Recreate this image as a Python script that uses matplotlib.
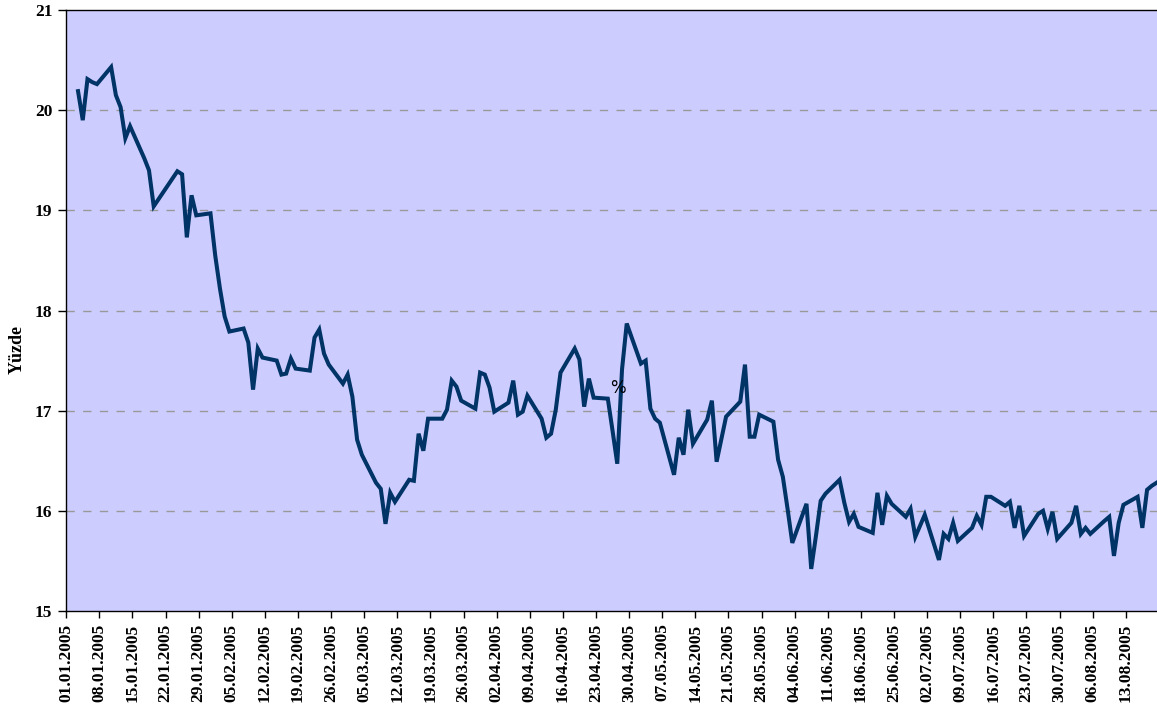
import matplotlib
matplotlib.use("Agg")
import matplotlib.pyplot as plt
import pandas as pd

# ---- data ----
dates = [
    "2005-01-03", "2005-01-04", "2005-01-05", "2005-01-06", "2005-01-07",
    "2005-01-10", "2005-01-11", "2005-01-12", "2005-01-13", "2005-01-14",
    "2005-01-17", "2005-01-18", "2005-01-19", "2005-01-24", "2005-01-25",
    "2005-01-26", "2005-01-27", "2005-01-28", "2005-01-31",
    "2005-02-01", "2005-02-02", "2005-02-03", "2005-02-04", "2005-02-07",
    "2005-02-08", "2005-02-09", "2005-02-10", "2005-02-11", "2005-02-14",
    "2005-02-15", "2005-02-16", "2005-02-17", "2005-02-18", "2005-02-21",
    "2005-02-22", "2005-02-23", "2005-02-24", "2005-02-25", "2005-02-28",
    "2005-03-01", "2005-03-02", "2005-03-03", "2005-03-04", "2005-03-07",
    "2005-03-08", "2005-03-09", "2005-03-10", "2005-03-11", "2005-03-14",
    "2005-03-15", "2005-03-16", "2005-03-17", "2005-03-18", "2005-03-21",
    "2005-03-22", "2005-03-23", "2005-03-24", "2005-03-25", "2005-03-28",
    "2005-03-29", "2005-03-30", "2005-03-31",
    "2005-04-01", "2005-04-04", "2005-04-05", "2005-04-06", "2005-04-07",
    "2005-04-08", "2005-04-11", "2005-04-12", "2005-04-13", "2005-04-14",
    "2005-04-15", "2005-04-18", "2005-04-19", "2005-04-20", "2005-04-21",
    "2005-04-22", "2005-04-25", "2005-04-26", "2005-04-27", "2005-04-28",
    "2005-04-29",
    "2005-05-02", "2005-05-03", "2005-05-04", "2005-05-05", "2005-05-06",
    "2005-05-09", "2005-05-10", "2005-05-11", "2005-05-12", "2005-05-13",
    "2005-05-16", "2005-05-17", "2005-05-18", "2005-05-20", "2005-05-23",
    "2005-05-24", "2005-05-25", "2005-05-26", "2005-05-27", "2005-05-30",
    "2005-05-31",
    "2005-06-01", "2005-06-02", "2005-06-03", "2005-06-06", "2005-06-07",
    "2005-06-08", "2005-06-09", "2005-06-10", "2005-06-13", "2005-06-14",
    "2005-06-15", "2005-06-16", "2005-06-17", "2005-06-20", "2005-06-21",
    "2005-06-22", "2005-06-23", "2005-06-24", "2005-06-27", "2005-06-28",
    "2005-06-29", "2005-06-30",
    "2005-07-01", "2005-07-04", "2005-07-05", "2005-07-06", "2005-07-07",
    "2005-07-08", "2005-07-11", "2005-07-12", "2005-07-13", "2005-07-14",
    "2005-07-15", "2005-07-18", "2005-07-19", "2005-07-20", "2005-07-21",
    "2005-07-22", "2005-07-25", "2005-07-26", "2005-07-27", "2005-07-28",
    "2005-07-29",
    "2005-08-01", "2005-08-02", "2005-08-03", "2005-08-04", "2005-08-05",
    "2005-08-08", "2005-08-09", "2005-08-10", "2005-08-11", "2005-08-12",
    "2005-08-15", "2005-08-16", "2005-08-17", "2005-08-18", "2005-08-19",
]

values = [
    20.19, 19.90, 20.31, 20.28, 20.26,
    20.43, 20.15, 20.03, 19.72, 19.84,
    19.52, 19.40, 19.04, 19.39, 19.36,
    18.73, 19.15, 18.95, 18.97,
    18.55, 18.22, 17.94, 17.79, 17.82,
    17.68, 17.21, 17.62, 17.53, 17.50,
    17.36, 17.37, 17.52, 17.42, 17.40,
    17.73, 17.81, 17.57, 17.46, 17.27,
    17.36, 17.14, 16.71, 16.56, 16.28,
    16.22, 15.87, 16.18, 16.09, 16.31,
    16.30, 16.77, 16.60, 16.92, 16.92,
    17.01, 17.30, 17.24, 17.10, 17.02,
    17.38, 17.36, 17.23,
    16.99, 17.08, 17.30, 16.96, 16.99,
    17.15, 16.92, 16.73, 16.77, 17.01,
    17.38, 17.62, 17.51, 17.04, 17.32,
    17.13, 17.12, 16.80, 16.47, 17.41,
    17.87,
    17.47, 17.50, 17.02, 16.92, 16.88,
    16.36, 16.73, 16.56, 17.01, 16.67,
    16.91, 17.10, 16.49, 16.94, 17.09,
    17.46, 16.74, 16.74, 16.96, 16.89,
    16.51,
    16.34, 16.02, 15.68, 16.07, 15.42,
    15.75, 16.10, 16.17, 16.31, 16.08,
    15.89, 15.97, 15.84, 15.78, 16.18,
    15.86, 16.15, 16.07, 15.94, 16.02,
    15.74, 15.85,
    15.96, 15.51, 15.77, 15.72, 15.88,
    15.70, 15.83, 15.95, 15.86, 16.14,
    16.14, 16.05, 16.09, 15.83, 16.05,
    15.75, 15.97, 16.00, 15.82, 15.99,
    15.72,
    15.88, 16.05, 15.77, 15.83, 15.77,
    15.90, 15.94, 15.55, 15.88, 16.06,
    16.14, 15.83, 16.21, 16.25, 16.28,
]

tick_dates = pd.date_range("2005-01-01", "2005-08-13", freq="7D")
tick_labels = [d.strftime("%d.%m.%Y") for d in tick_dates]
y_ticks = [15, 16, 17, 18, 19, 20, 21]
y_label = "Yüzde"
note_text = "%"

# ---- figure ----
fig = plt.figure(figsize=(11.57, 7.04), dpi=100)
ax = fig.add_axes([66.2 / 1157, (704 - 611) / 704, (1157 - 66.2) / 1157, 601 / 704])
ax.set_facecolor("#CCCCFF")

# points are drawn at the middle of each day, as in the original date axis
x = pd.to_datetime(dates) + pd.Timedelta(hours=12)
ax.plot(x, values, color="#003366", linewidth=2.9, solid_joinstyle="miter")

start = pd.Timestamp("2005-01-01")
ax.set_xlim(start, start + pd.Timedelta(days=230.6))
ax.set_ylim(15, 21)

serif = ["Liberation Serif", "DejaVu Serif"]
ax.set_xticks(tick_dates)
ax.set_xticklabels(tick_labels, rotation=90, fontfamily=serif, fontweight="bold", fontsize=12.5)
ax.set_yticks(y_ticks)
ax.set_yticklabels([str(v) for v in y_ticks], fontfamily=serif, fontweight="bold", fontsize=12.5)

ax.tick_params(axis="y", direction="out", length=6, width=1, pad=4)
ax.tick_params(axis="x", direction="out", length=5, width=1, pad=4)

for yv in [16, 17, 18, 19, 20]:
    ax.axhline(yv, color="#999999", linewidth=1, linestyle=(0, (6, 6)), zorder=1)

for s in ["left", "bottom", "top"]:
    ax.spines[s].set_color("black")
    ax.spines[s].set_linewidth(1)
ax.spines["right"].set_visible(False)

fig.text(17 / 1157, 1 - 350 / 704, y_label, rotation=90, ha="center", va="center",
         fontfamily=serif, fontweight="bold", fontsize=13)

ax.text((618 - 66.2) / (1157 - 66.2), (611 - 388) / 601, note_text, transform=ax.transAxes,
        ha="center", va="center", fontsize=12, color="black")

fig.savefig("out.png", dpi=100)
